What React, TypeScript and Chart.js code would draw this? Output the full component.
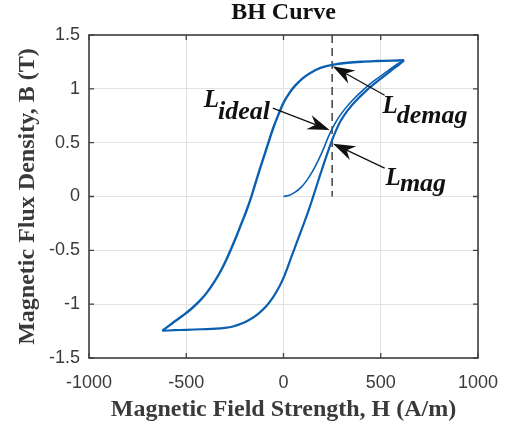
import React, { useEffect, useRef } from "react";
import { Chart, registerables } from "chart.js";

Chart.register(...registerables);

// Major loop, descending (upper) branch: from positive tip towards negative tip
const upperH = [620, 560, 480, 400, 330, 250, 190, 140, 100, 60, 30, 0, -25, -50, -75, -100, -125, -150, -165, -190, -215, -240, -270, -300, -330, -360, -395, -431, -475, -517, -570, -623];
const upperB = [1.265, 1.262, 1.258, 1.252, 1.242, 1.222, 1.195, 1.15, 1.1, 1.03, 0.96, 0.87, 0.765, 0.65, 0.515, 0.375, 0.235, 0.09, 0.0, -0.13, -0.245, -0.36, -0.49, -0.61, -0.715, -0.805, -0.895, -0.97, -1.045, -1.105, -1.175, -1.247];

// Major loop, ascending (lower) branch: from negative tip to positive tip
const lowerH = [-623, -560, -500, -420, -346, -300, -260, -215, -175, -130, -89, -55, -21, 5, 30, 55, 80, 105, 130, 150, 190, 229, 260, 295, 330, 370, 430, 490, 550, 600, 620];
const lowerB = [-1.247, -1.242, -1.238, -1.233, -1.228, -1.22, -1.207, -1.18, -1.145, -1.09, -1.02, -0.94, -0.836, -0.735, -0.615, -0.49, -0.37, -0.25, -0.125, -0.015, 0.21, 0.42, 0.57, 0.705, 0.8, 0.885, 0.99, 1.08, 1.165, 1.235, 1.265];

// Initial magnetization curve from origin
const initH = [0, 30, 60, 90, 120, 150, 180, 205, 225, 245, 275, 310, 350, 410, 470, 535, 590, 620];
const initB = [0, 0.012, 0.04, 0.085, 0.15, 0.235, 0.34, 0.44, 0.53, 0.61, 0.71, 0.8, 0.885, 0.99, 1.08, 1.165, 1.235, 1.265];

// Vertical dashed reference line
const refH = [250, 250];
const refB = [1.5, 0];

// Axis ticks
const xTicks = [-1000, -500, 0, 500, 1000];
const yTicks = [-1.5, -1, -0.5, 0, 0.5, 1, 1.5];
const xTickLabels = ["-1000", "-500", "0", "500", "1000"];
const yTickLabels = ["-1.5", "-1", "-0.5", "0", "0.5", "1", "1.5"];

// Annotations (data coordinates)
const annoMain = ["L", "L", "L"];
const annoSub = ["ideal", "demag", "mag"];
const annoTextH = [-410, 509, 525];
const annoTextB = [0.832, 0.775, 0.105];
const annoTailH = [-55, 520, 520];
const annoTailB = [0.82, 0.94, 0.264];
const annoTipH = [237, 253, 255];
const annoTipB = [0.617, 1.21, 0.49];
const annoSubDrop = [12, 10, 6];

const LOOP_COLOR = "#0a5fb0";
const AXIS_COLOR = "#404040";
const SERIF = "'Liberation Serif', 'Times New Roman', serif";
const SANS = "'Liberation Sans', Arial, Helvetica, sans-serif";

const toPts = (xs: number[], ys: number[]) => xs.map((x, i) => ({ x, y: ys[i] }));

function drawArrow(ctx: CanvasRenderingContext2D, x1: number, y1: number, x2: number, y2: number) {
  const ang = Math.atan2(y2 - y1, x2 - x1);
  const ux = Math.cos(ang), uy = Math.sin(ang);
  const px = -uy, py = ux;
  const len = 22, half = 7.5, back = 7;
  const bx = x2 - ux * len, by = y2 - uy * len;
  const nx = x2 - ux * (len - back), ny = y2 - uy * (len - back);
  ctx.save();
  ctx.strokeStyle = "#111";
  ctx.fillStyle = "#111";
  ctx.lineWidth = 1.3;
  ctx.beginPath();
  ctx.moveTo(x1, y1);
  ctx.lineTo(nx, ny);
  ctx.stroke();
  ctx.beginPath();
  ctx.moveTo(x2, y2);
  ctx.lineTo(bx + px * half, by + py * half);
  ctx.lineTo(nx, ny);
  ctx.lineTo(bx - px * half, by - py * half);
  ctx.closePath();
  ctx.fill();
  ctx.restore();
}

const framePlugin = {
  id: "frameAndNotes",
  afterDatasetsDraw(chart: any) {
    const { ctx, chartArea, scales } = chart;
    const xs = scales.x, ys = scales.y;
    const { left, right, top, bottom } = chartArea;
    ctx.save();
    // inner ticks
    ctx.strokeStyle = AXIS_COLOR;
    ctx.lineWidth = 1.3;
    const tl = 5;
    ctx.beginPath();
    xTicks.forEach((v) => {
      const x = xs.getPixelForValue(v);
      ctx.moveTo(x, bottom);
      ctx.lineTo(x, bottom - tl);
      ctx.moveTo(x, top);
      ctx.lineTo(x, top + tl);
    });
    yTicks.forEach((v) => {
      const y = ys.getPixelForValue(v);
      ctx.moveTo(left, y);
      ctx.lineTo(left + tl, y);
      ctx.moveTo(right, y);
      ctx.lineTo(right - tl, y);
    });
    ctx.stroke();
    // box
    ctx.lineWidth = 1.6;
    ctx.strokeRect(left, top, right - left, bottom - top);
    ctx.restore();

    // annotations
    for (let i = 0; i < annoMain.length; i++) {
      const tx = xs.getPixelForValue(annoTailH[i]);
      const ty = ys.getPixelForValue(annoTailB[i]);
      const hx = xs.getPixelForValue(annoTipH[i]);
      const hy = ys.getPixelForValue(annoTipB[i]);
      drawArrow(ctx, tx, ty, hx, hy);
    }
    ctx.save();
    ctx.fillStyle = "#111";
    ctx.textBaseline = "alphabetic";
    ctx.textAlign = "left";
    for (let i = 0; i < annoMain.length; i++) {
      const x = xs.getPixelForValue(annoTextH[i]);
      const y = ys.getPixelForValue(annoTextB[i]);
      ctx.font = `italic bold 25px ${SERIF}`;
      ctx.fillText(annoMain[i], x, y);
      const w = ctx.measureText(annoMain[i]).width;
      ctx.font = `italic bold 26px ${SERIF}`;
      ctx.fillText(annoSub[i], x + w - 1, y + annoSubDrop[i]);
    }
    ctx.restore();
  },
};

export default function App() {
  const canvasRef = useRef<HTMLCanvasElement | null>(null);

  useEffect(() => {
    if (!canvasRef.current) return;
    const chart = new Chart(canvasRef.current, {
      type: "scatter",
      data: {
        datasets: [
          {
            label: "upper",
            data: toPts(upperH, upperB),
            showLine: true,
            borderColor: LOOP_COLOR,
            borderWidth: 2.4,
            pointRadius: 0,
            tension: 0.35,
          },
          {
            label: "lower",
            data: toPts(lowerH, lowerB),
            showLine: true,
            borderColor: LOOP_COLOR,
            borderWidth: 2.2,
            pointRadius: 0,
            tension: 0.35,
          },
          {
            label: "initial",
            data: toPts(initH, initB),
            showLine: true,
            borderColor: LOOP_COLOR,
            borderWidth: 1.6,
            pointRadius: 0,
            tension: 0.35,
          },
          {
            label: "ref",
            data: toPts(refH, refB),
            showLine: true,
            borderColor: "#222",
            borderWidth: 1.3,
            borderDash: [8, 5],
            pointRadius: 0,
          },
        ],
      },
      options: {
        responsive: false,
        animation: false,
        devicePixelRatio: 1,
        layout: { padding: { left: 0, right: 28, top: 0, bottom: 0 } },
        plugins: {
          legend: { display: false },
          tooltip: { enabled: false },
          title: {
            display: true,
            text: "BH Curve",
            fullSize: false,
            color: "#111",
            font: { family: SERIF, size: 24, weight: "bold", lineHeight: 1 },
            padding: { top: 1, bottom: 10 },
          },
        },
        scales: {
          x: {
            type: "linear",
            min: -1000,
            max: 1000,
            afterBuildTicks: (s: any) => {
              s.ticks = xTicks.map((v) => ({ value: v }));
            },
            afterFit: (s: any) => {
              s.height = 64;
              s.paddingLeft = 0;
              s.paddingRight = 0;
            },
            ticks: {
              color: "#3a3a3a",
              font: { family: SANS, size: 18 },
              padding: 14,
              maxRotation: 0,
              autoSkip: false,
              callback: (v: any) => {
                const i = xTicks.indexOf(Number(v));
                return i >= 0 ? xTickLabels[i] : "";
              },
            },
            grid: { color: "#e2e2e2", lineWidth: 1, drawTicks: false },
            border: { display: false },
            title: {
              display: true,
              text: "Magnetic Field Strength, H (A/m)",
              color: "#3a3a3a",
              font: { family: SERIF, size: 24, weight: "bold", lineHeight: 1 },
              padding: { top: 0, bottom: 0 },
            },
          },
          y: {
            type: "linear",
            min: -1.5,
            max: 1.5,
            afterBuildTicks: (s: any) => {
              s.ticks = yTicks.map((v) => ({ value: v }));
            },
            afterFit: (s: any) => {
              s.width = 89;
            },
            ticks: {
              color: "#3a3a3a",
              font: { family: SANS, size: 18 },
              padding: 9,
              autoSkip: false,
              callback: (v: any) => {
                const i = yTicks.indexOf(Number(v));
                return i >= 0 ? yTickLabels[i] : "";
              },
            },
            grid: { color: "#e2e2e2", lineWidth: 1, drawTicks: false },
            border: { display: false },
            title: {
              display: true,
              text: "Magnetic Flux Density, B (T)",
              color: "#3a3a3a",
              font: { family: SERIF, size: 24, weight: "bold", lineHeight: 1 },
              padding: { top: 16, bottom: 0 },
            },
          },
        },
      },
      plugins: [framePlugin],
    } as any);
    return () => chart.destroy();
  }, []);

  return (
    <div style={{ position: "fixed", left: 0, top: 0, width: 506, height: 422, background: "#fff" }}>
      <canvas ref={canvasRef} width={506} height={422} style={{ display: "block" }} />
    </div>
  );
}
